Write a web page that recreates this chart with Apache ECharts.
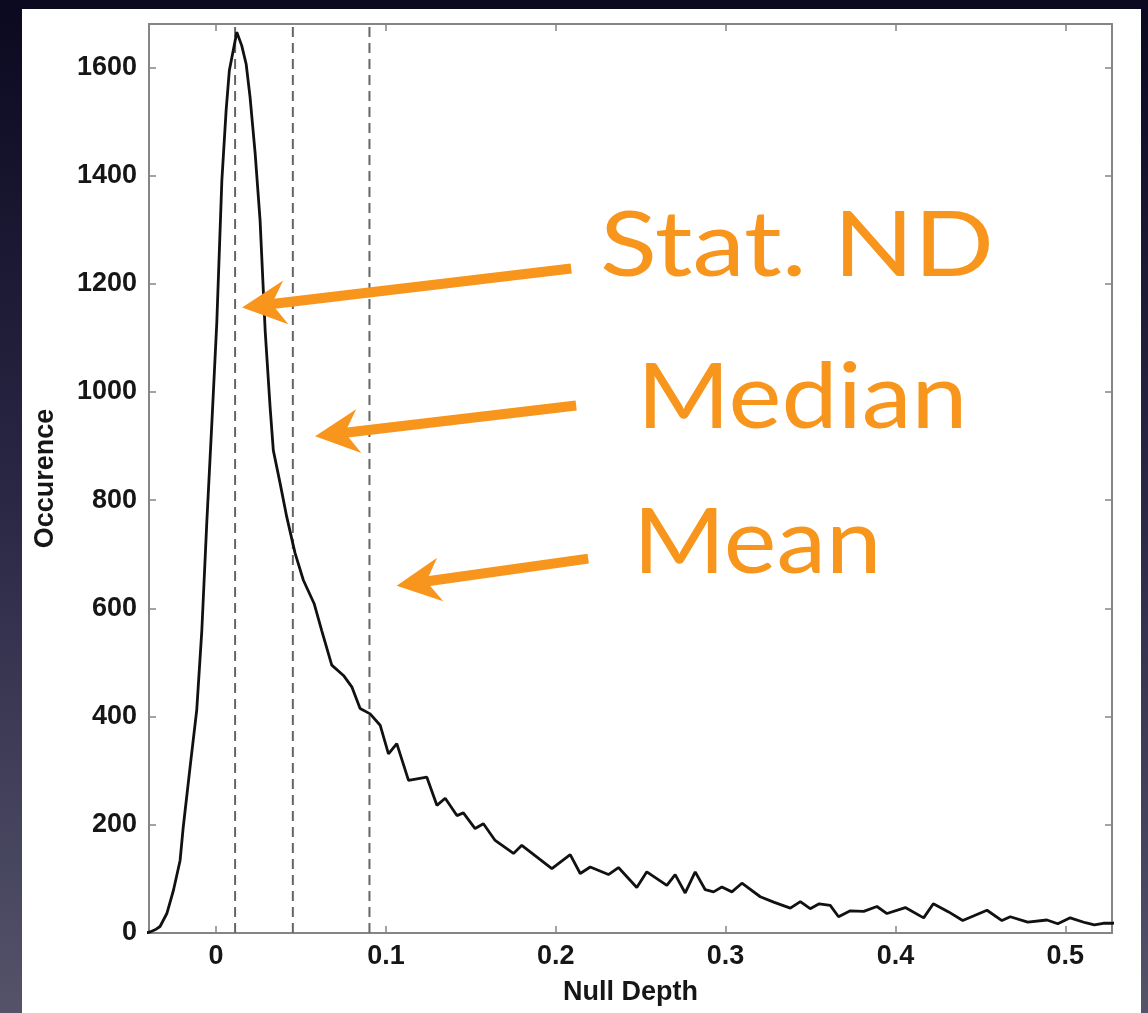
<!DOCTYPE html>
<html>
<head>
<meta charset="utf-8">
<script src="https://cdn.jsdelivr.net/npm/echarts@6/dist/echarts.min.js"></script>
<style>
  html, body { margin: 0; padding: 0; background: #0b0920; }
  #chart { width: 1148px; height: 1013px; }
</style>
</head>
<body>
<div id="chart"></div>
<script>
// Histogram of null depth: bin position and number of occurrences
const nullDepth = [
  -0.0412, -0.0389, -0.0353, -0.0330, -0.0290, -0.0251, -0.0212, -0.0194, -0.0153, -0.0114,
  -0.0084, -0.0055, -0.0025, 0.0004, 0.0034, 0.0059, 0.0078, 0.0122, 0.0151, 0.0177,
  0.0200, 0.0230, 0.0259, 0.0289, 0.0318, 0.0337, 0.0377, 0.0416, 0.0465, 0.0514,
  0.0577, 0.0622, 0.0681, 0.0750, 0.0799, 0.0848, 0.0907, 0.0966, 0.1015, 0.1064,
  0.1133, 0.1241, 0.1300, 0.1349, 0.1418, 0.1456, 0.1525, 0.1574, 0.1643, 0.1751,
  0.1800, 0.1977, 0.2085, 0.2144, 0.2203, 0.2310, 0.2369, 0.2477, 0.2536, 0.2654,
  0.2703, 0.2762, 0.2821, 0.2880, 0.2929, 0.2978, 0.3037, 0.3096, 0.3204, 0.3283,
  0.3381, 0.3440, 0.3498, 0.3551, 0.3616, 0.3665, 0.3734, 0.3813, 0.3891, 0.3950,
  0.4058, 0.4166, 0.4223, 0.4313, 0.4396, 0.4539, 0.4627, 0.4676, 0.4779, 0.4892,
  0.4956, 0.5029, 0.5118, 0.5171, 0.5224, 0.5277, 0.5324
];
const occurrence = [
  0, 2, 7, 12, 36, 79, 134, 194, 307, 412,
  559, 757, 942, 1127, 1391, 1520, 1594, 1665, 1640, 1606,
  1545, 1441, 1317, 1113, 972, 892, 831, 769, 702, 652,
  609, 559, 495, 476, 455, 415, 405, 384, 331, 350,
  282, 288, 236, 249, 217, 222, 193, 202, 171, 147,
  162, 119, 145, 110, 122, 108, 121, 84, 113, 88,
  108, 74, 113, 80, 76, 85, 76, 92, 67, 57,
  46, 58, 45, 54, 51, 30, 41, 40, 49, 36,
  47, 28, 54, 39, 23, 42, 23, 30, 20, 24,
  17, 28, 19, 15, 18, 18, 19
];

// Tick values on both axes
const xTickValues = [0, 0.1, 0.2, 0.3, 0.4, 0.5];
const yTickValues = [0, 200, 400, 600, 800, 1000, 1200, 1400, 1600];

// Reference depths drawn as dashed verticals: statistical ND, median, mean
const markerDepths = [0.0112, 0.0452, 0.0903];

// Callouts: label, arrow tip and arrow tail in (depth, occurrence) units
const calloutLabels = ['Stat. ND', 'Median', 'Mean'];
const calloutTips = [[0.0153, 1156], [0.0583, 918], [0.1063, 642]];
const calloutTails = [[0.2091, 1228], [0.2120, 975], [0.2191, 692]];

const ORANGE = '#f7951c';
const AXIS_GRAY = '#858585';
const TICK_FONT = '"Liberation Sans", Arial, Helvetica, sans-serif';

const X_MIN = -0.0395, X_MAX = 0.5275, Y_MIN = 0, Y_MAX = 1680;

const chart = echarts.init(document.getElementById('chart'), null, { renderer: 'canvas' });

const points = nullDepth.map((d, i) => [d, occurrence[i]]);

const tickStyle = { show: true, inside: true, length: 7, lineStyle: { color: AXIS_GRAY, width: 1.5 } };
const frameLine = { show: true, onZero: false, lineStyle: { color: AXIS_GRAY, width: 2 } };
const labelStyle = { fontFamily: TICK_FONT, fontWeight: 'bold', fontSize: 27, color: '#161616' };
const nameStyle = { fontFamily: TICK_FONT, fontWeight: 'bold', fontSize: 27, color: '#161616' };

// One dashed vertical per reference depth, spanning the full occurrence range
const markerSeries = markerDepths.map(d => ({
  type: 'line',
  xAxisIndex: 0, yAxisIndex: 0,
  data: [[d, Y_MIN], [d, Y_MAX]],
  showSymbol: false,
  silent: true,
  z: 3,
  lineStyle: { type: [10, 6], color: '#666666', width: 2 }
}));

chart.setOption({
  animation: false,
  backgroundColor: {
    type: 'linear', x: 0, y: 0, x2: 0, y2: 1,
    colorStops: [
      { offset: 0, color: '#0b0920' },
      { offset: 0.5, color: '#2b2846' },
      { offset: 1, color: '#54536a' }
    ]
  },
  grid: { left: 149, right: 36, top: 24, bottom: 80, containLabel: false },
  xAxis: [
    {
      type: 'value', min: X_MIN, max: X_MAX, position: 'bottom',
      axisLine: frameLine,
      axisTick: Object.assign({ customValues: xTickValues }, tickStyle),
      axisLabel: Object.assign({ customValues: xTickValues, margin: 10,
        formatter: v => String(v) }, labelStyle),
      splitLine: { show: false },
      name: 'Null Depth', nameLocation: 'middle', nameGap: 46,
      nameTextStyle: nameStyle
    },
    {
      type: 'value', min: X_MIN, max: X_MAX, position: 'top',
      axisLine: frameLine,
      axisTick: Object.assign({ customValues: xTickValues }, tickStyle),
      axisLabel: { show: false },
      splitLine: { show: false }
    }
  ],
  yAxis: [
    {
      type: 'value', min: Y_MIN, max: Y_MAX, position: 'left',
      axisLine: frameLine,
      axisTick: Object.assign({ customValues: yTickValues }, tickStyle),
      axisLabel: Object.assign({ customValues: yTickValues, margin: 12,
        formatter: v => String(v) }, labelStyle),
      splitLine: { show: false },
      name: 'Occurence', nameLocation: 'middle', nameGap: 90,
      nameTextStyle: nameStyle
    },
    {
      type: 'value', min: Y_MIN, max: Y_MAX, position: 'right',
      axisLine: frameLine,
      axisTick: Object.assign({ customValues: yTickValues }, tickStyle),
      axisLabel: { show: false },
      splitLine: { show: false }
    }
  ],
  series: markerSeries.concat([
    {
      type: 'line',
      xAxisIndex: 0, yAxisIndex: 0,
      data: points,
      showSymbol: false,
      clip: true,
      z: 5,
      lineStyle: { color: '#111111', width: 2.8 }
    }
  ])
});

// Callout arrows and labels
const CALLOUT_FONT_SIZE = 92;
const CALLOUT_FONT = 'Lato, "Open Sans", sans-serif';
const labelBoxes = [
  { left: 600, baseline: 281, width: 386 },
  { left: 637, baseline: 433, width: 316 },
  { left: 633, baseline: 578, width: 234 }
];

const measureCtx = document.createElement('canvas').getContext('2d');
measureCtx.font = 'normal ' + CALLOUT_FONT_SIZE + 'px ' + CALLOUT_FONT;

function arrowElements(tipData, tailData) {
  const tip = chart.convertToPixel({ gridIndex: 0 }, tipData);
  const tail = chart.convertToPixel({ gridIndex: 0 }, tailData);
  const dx = tail[0] - tip[0], dy = tail[1] - tip[1];
  const len = Math.hypot(dx, dy);
  const ux = dx / len, uy = dy / len;
  const nx = -uy, ny = ux;
  const headLen = 44, halfW = 22, notch = 30;
  const head = [
    tip,
    [tip[0] + ux * headLen + nx * halfW, tip[1] + uy * headLen + ny * halfW],
    [tip[0] + ux * notch, tip[1] + uy * notch],
    [tip[0] + ux * headLen - nx * halfW, tip[1] + uy * headLen - ny * halfW]
  ];
  return [
    {
      type: 'line', z: 100, silent: true,
      shape: { x1: tip[0] + ux * (notch - 4), y1: tip[1] + uy * (notch - 4), x2: tail[0], y2: tail[1] },
      style: { stroke: ORANGE, lineWidth: 10, lineCap: 'butt' }
    },
    {
      type: 'polygon', z: 100, silent: true,
      shape: { points: head },
      style: { fill: ORANGE }
    }
  ];
}

const extra = [];
calloutLabels.forEach((label, i) => {
  extra.push(...arrowElements(calloutTips[i], calloutTails[i]));
  const box = labelBoxes[i];
  const m = measureCtx.measureText(label);
  const natural = m.actualBoundingBoxRight + m.actualBoundingBoxLeft;
  const sx = box.width / natural;
  extra.push({
    type: 'text', z: 100, silent: true,
    x: box.left, y: box.baseline + 11,
    scaleX: sx, scaleY: 1,
    style: {
      text: label,
      x: 0, y: 0,
      font: 'normal ' + CALLOUT_FONT_SIZE + 'px ' + CALLOUT_FONT,
      fill: ORANGE,
      align: 'left',
      verticalAlign: 'bottom'
    }
  });
});

chart.setOption({
  graphic: [
    {
      type: 'rect', z: -10, silent: true,
      shape: { x: 22, y: 9, width: 1119, height: 1010 },
      style: { fill: '#ffffff' }
    }
  ].concat(extra)
});
</script>
</body>
</html>
